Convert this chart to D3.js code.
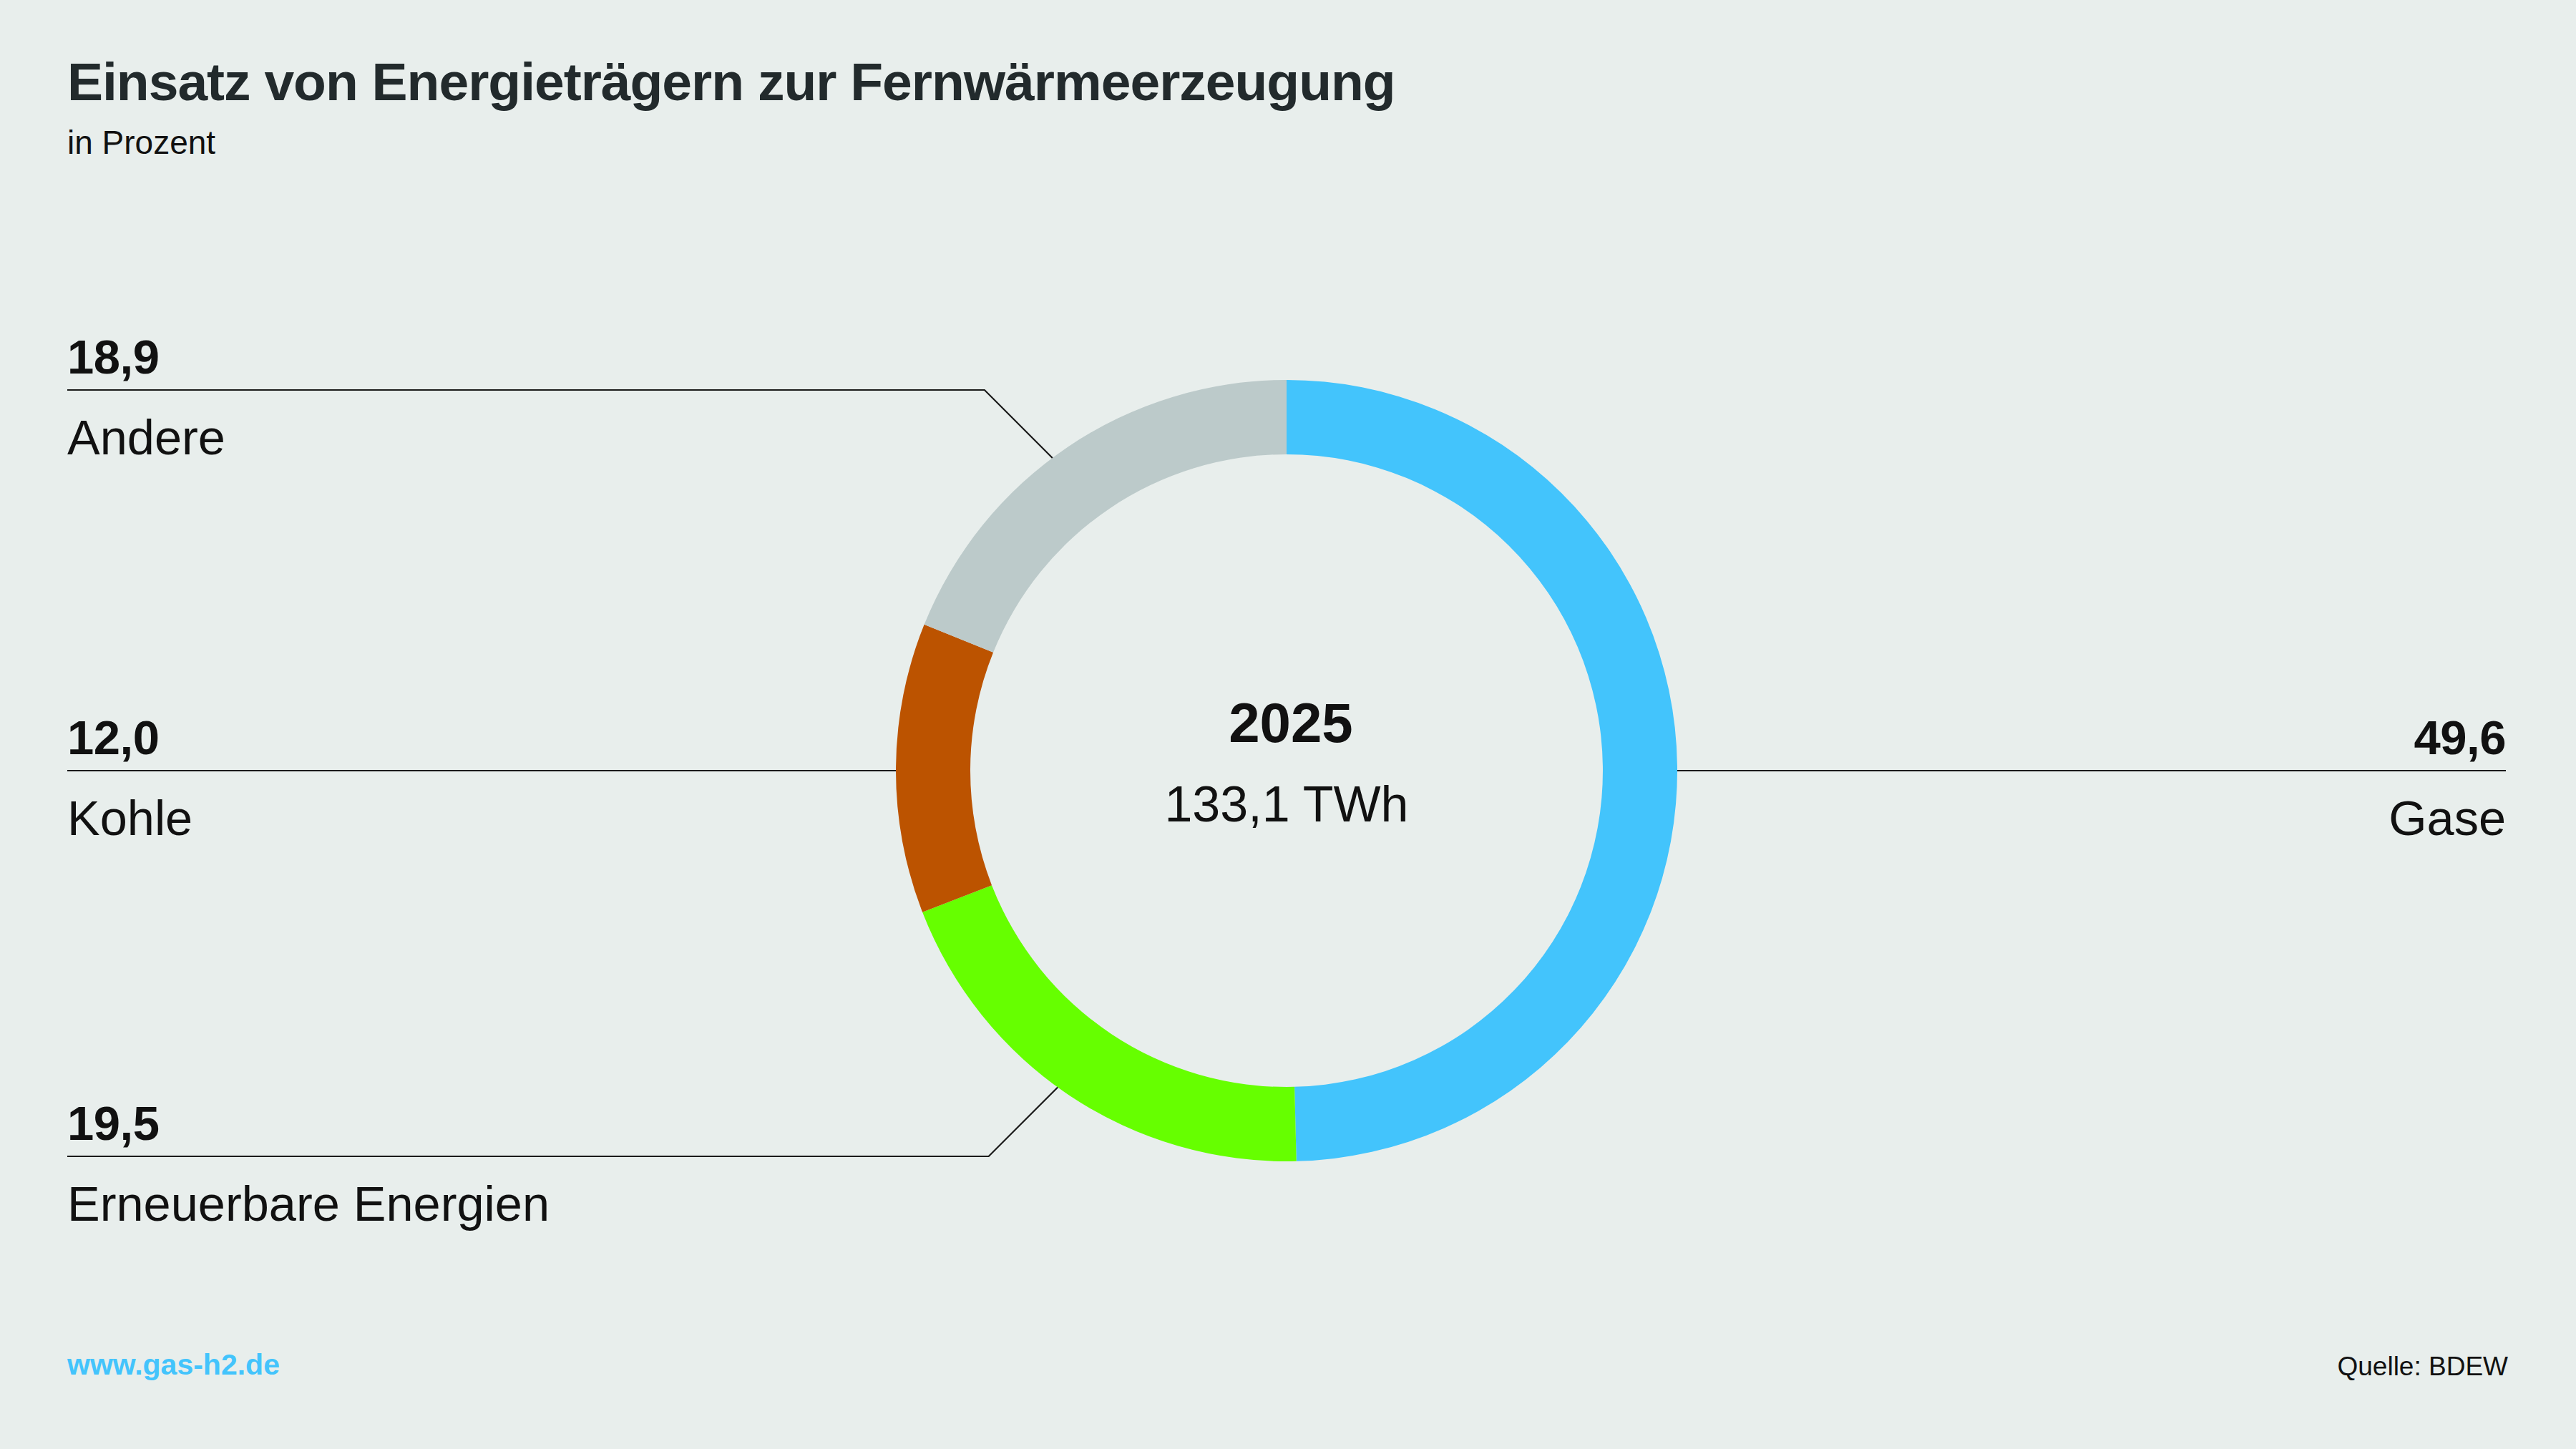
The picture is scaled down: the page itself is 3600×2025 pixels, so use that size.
<!DOCTYPE html>
<html lang="de">
<head>
<meta charset="utf-8">
<title>Einsatz von Energieträgern zur Fernwärmeerzeugung</title>
<script src="https://cdn.jsdelivr.net/npm/d3@7"></script>
<style>
  html, body { margin: 0; padding: 0; background: #e8eeec; overflow: hidden; }
  svg { display: block; font-family: "Liberation Sans", Arial, sans-serif; }
</style>
</head>
<body>
<div class="chart"></div>
<script>
// data
const categories = ["Gase", "Erneuerbare Energien", "Kohle", "Andere"];
const shares = [49.6, 19.5, 12.0, 18.9];
const colors = ["#43c4fc", "#66ff00", "#bc5300", "#bccaca"];
const centerYear = "2025";
const centerTotal = "133,1 TWh";

const width = 3600;
const height = 2025;
const marginLeft = 94;
const marginRight = 98;

const cx = 1798;
const cy = 1077;
const outerR = 546;
const innerR = 442;

// where each label line sits, relative to the ring centre (nudge in degrees)
const labelLayout = {
  "Gase": { side: "right", dy: 0, nudge: 0 },
  "Erneuerbare Energien": { side: "left", dy: 539, nudge: 2.2 },
  "Kohle": { side: "left", dy: 0, nudge: 0 },
  "Andere": { side: "left", dy: -532, nudge: -2.8 }
};

const fmt = (v) => d3.format(".1f")(v).replace(".", ",");

const svg = d3
  .select(".chart")
  .append("svg")
  .attr("width", width)
  .attr("height", height);

svg.append("rect")
  .attr("width", width)
  .attr("height", height)
  .attr("fill", "#e8eeec");

// header
svg.append("text")
  .attr("x", marginLeft)
  .attr("y", 140)
  .attr("font-size", 75)
  .attr("font-weight", 700)
  .attr("letter-spacing", -1)
  .attr("fill", "#222a2c")
  .text("Einsatz von Energieträgern zur Fernwärmeerzeugung");

svg.append("text")
  .attr("x", marginLeft)
  .attr("y", 215)
  .attr("font-size", 46)
  .attr("fill", "#111")
  .text("in Prozent");

// ring
const data = categories.map((c, i) => ({ name: c, value: shares[i], color: colors[i] }));

const pie = d3.pie()
  .sort(null)
  .value((d) => d.value)
  .startAngle(0)
  .endAngle(2 * Math.PI);

const arc = d3.arc()
  .innerRadius(innerR)
  .outerRadius(outerR);

const arcs = pie(data);

const ring = svg.append("g")
  .attr("transform", `translate(${cx}, ${cy})`);

ring.selectAll("path")
  .data(arcs)
  .enter()
  .append("path")
  .attr("d", arc)
  .attr("fill", (d) => d.data.color);

// centre text
ring.append("text")
  .attr("x", 6)
  .attr("y", -40)
  .attr("text-anchor", "middle")
  .attr("font-size", 78)
  .attr("font-weight", 700)
  .attr("fill", "#111")
  .text(centerYear);

ring.append("text")
  .attr("x", 0)
  .attr("y", 71)
  .attr("text-anchor", "middle")
  .attr("font-size", 70)
  .attr("fill", "#111")
  .text(centerTotal);

// labels with leader lines
const labels = svg.append("g");

arcs.forEach((d) => {
  const layout = labelLayout[d.data.name];
  const lineY = cy + layout.dy;
  const mid = (d.startAngle + d.endAngle) / 2 + (layout.nudge * Math.PI) / 180;
  const px = cx + outerR * Math.sin(mid);
  const py = cy - outerR * Math.cos(mid);
  const left = layout.side === "left";
  const edgeX = left ? marginLeft : width - marginRight;

  let points;
  if (Math.abs(layout.dy) < 1) {
    const hx = Math.sqrt(outerR * outerR - layout.dy * layout.dy);
    points = [[edgeX, lineY], [left ? cx - hx : cx + hx, lineY]];
  } else {
    const dy = Math.abs(py - lineY);
    const elbowX = left ? px - dy : px + dy;
    points = [[edgeX, lineY], [elbowX, lineY], [px, py]];
  }

  labels.append("path")
    .attr("d", d3.line()(points))
    .attr("fill", "none")
    .attr("stroke", "#1a1a1a")
    .attr("stroke-width", 2.2);

  const anchor = left ? "start" : "end";

  labels.append("text")
    .attr("x", edgeX)
    .attr("y", lineY - 23)
    .attr("text-anchor", anchor)
    .attr("font-size", 67)
    .attr("font-weight", 700)
    .attr("letter-spacing", -0.5)
    .attr("fill", "#111")
    .text(fmt(d.data.value));

  labels.append("text")
    .attr("x", edgeX)
    .attr("y", lineY + 90)
    .attr("text-anchor", anchor)
    .attr("font-size", 68.5)
    .attr("fill", "#111")
    .text(d.data.name);
});

// footer
svg.append("text")
  .attr("x", marginLeft)
  .attr("y", 1921)
  .attr("font-size", 41)
  .attr("font-weight", 700)
  .attr("fill", "#43c4fc")
  .text("www.gas-h2.de");

svg.append("text")
  .attr("x", width - marginRight + 3)
  .attr("y", 1922)
  .attr("text-anchor", "end")
  .attr("font-size", 37)
  .attr("fill", "#111")
  .text("Quelle: BDEW");
</script>
</body>
</html>
